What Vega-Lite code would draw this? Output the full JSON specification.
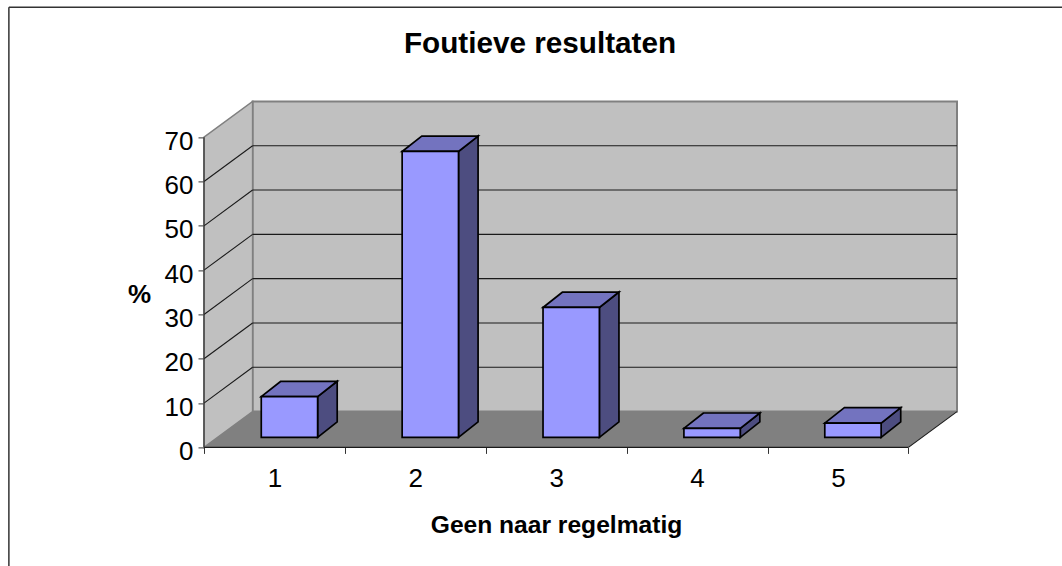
{"$schema":"https://vega.github.io/schema/vega-lite/v6.json","autosize":"none","width":753,"height":346,"padding":{"left":204,"top":101.4,"right":105,"bottom":118.6},"background":"white","config":{"view":{"stroke":null},"font":"Liberation Sans"},"title":{"text":"Foutieve resultaten","font":"Liberation Sans","fontSize":29.7,"fontWeight":"bold","anchor":"middle","frame":"group","dx":-40.5,"offset":-53,"color":"#000000"},"datasets":{"bars":[{"cat":1,"value":9.16},{"cat":2,"value":64.5},{"cat":3,"value":29.3},{"cat":4,"value":2.0},{"cat":5,"value":3.2}],"levels":[{"level":10},{"level":20},{"level":30},{"level":40},{"level":50},{"level":60}]},"encoding":{"x":{"field":"x","type":"quantitative","scale":{"domain":[0.5,5.845],"nice":false,"zero":false},"axis":null},"y":{"field":"y","type":"quantitative","scale":{"domain":[0,78.08],"nice":false,"zero":false},"axis":null}},"resolve":{"axis":{"x":"independent","y":"independent"}},"layer":[{"data":{"values":[{"x":0.845,"x2":5.845,"y":8.08,"y2":78.08}]},"mark":{"type":"rect","fill":"#c0c0c0","stroke":"#808080","strokeWidth":2},"encoding":{"x2":{"field":"x2"},"y2":{"field":"y2"}}},{"data":{"values":[{"x":0.5,"y":0,"y2":70},{"x":0.845,"y":8.08,"y2":78.08}]},"mark":{"type":"area","fill":"#c0c0c0","stroke":"#808080","strokeWidth":1.5},"encoding":{"y2":{"field":"y2"}}},{"data":{"values":[{"y":0,"x":0.5,"x2":5.5},{"y":8.08,"x":0.845,"x2":5.845}]},"mark":{"type":"area","orient":"horizontal","fill":"#808080"},"encoding":{"x2":{"field":"x2"}}},{"data":{"name":"levels"},"transform":[{"calculate":"0.5","as":"x"},{"calculate":"0.845","as":"x2"},{"calculate":"datum.level","as":"y"},{"calculate":"datum.level+8.08","as":"y2"}],"mark":{"type":"rule","color":"#1a1a1a","strokeWidth":1.1},"encoding":{"x2":{"field":"x2"},"y2":{"field":"y2"}}},{"data":{"name":"levels"},"transform":[{"calculate":"0.845","as":"x"},{"calculate":"5.845","as":"x2"},{"calculate":"datum.level+8.08","as":"y"}],"mark":{"type":"rule","color":"#1a1a1a","strokeWidth":1.1},"encoding":{"x2":{"field":"x2"}}},{"data":{"values":[{"x":5.5,"x2":5.845,"y":0,"y2":8.08}]},"mark":{"type":"rule","color":"#1a1a1a","strokeWidth":1.1},"encoding":{"x2":{"field":"x2"},"y2":{"field":"y2"}}},{"data":{"values":[{"x":0.5,"x2":5.5,"y":0}]},"mark":{"type":"rule","color":"#1a1a1a","strokeWidth":1.2},"encoding":{"x":{"field":"x","type":"quantitative","axis":{"orient":"bottom","values":[0.5,1.5,2.5,3.5,4.5,5.5],"labels":false,"domain":false,"grid":false,"ticks":true,"tickSize":6,"tickColor":"#333333","tickWidth":1,"title":"Geen naar regelmatig","titleFont":"Liberation Sans","titleFontSize":24.6,"titleFontWeight":"bold","titleColor":"#000000","titleX":352,"titleY":78,"titleBaseline":"middle","titleAlign":"center"}},"x2":{"field":"x2"}}},{"data":{"values":[{"x":1,"y":0},{"x":5,"y":0}]},"mark":{"type":"point","opacity":0},"encoding":{"x":{"field":"x","type":"quantitative","axis":{"orient":"bottom","values":[1,2,3,4,5],"format":"d","ticks":false,"domain":false,"grid":false,"title":null,"labelFont":"Liberation Sans","labelFontSize":26,"labelColor":"#000000","labelPadding":18,"labelFlush":false,"labelOverlap":false}}}},{"data":{"values":[{"x":0.5,"y":0,"y2":70}]},"mark":{"type":"rule","color":"#333333","strokeWidth":1.2},"encoding":{"y":{"field":"y","type":"quantitative","axis":{"orient":"left","values":[0,10,20,30,40,50,60,70],"domain":false,"grid":false,"ticks":true,"tickSize":6,"tickColor":"#333333","tickWidth":1,"labelFont":"Liberation Sans","labelFontSize":26,"labelColor":"#000000","labelPadding":5,"labelOffset":4,"labelFlush":false,"title":"%","titleFont":"Liberation Sans","titleFontSize":26,"titleFontWeight":"bold","titleColor":"#000000","titleAngle":0,"titleX":-65,"titleY":193,"titleBaseline":"middle","titleAlign":"center"}},"y2":{"field":"y2"}}},{"data":{"name":"bars"},"transform":[{"calculate":"[0,1]","as":"t"},{"flatten":["t"]},{"calculate":"datum.cat+0.3065+datum.t*0.139","as":"x"},{"calculate":"2.28+datum.t*3.48","as":"y"},{"calculate":"datum.y+datum.value","as":"y2"}],"mark":{"type":"area","fill":"#4d4d80","stroke":"#000000","strokeWidth":1.7},"encoding":{"y2":{"field":"y2"},"detail":{"field":"cat"}}},{"data":{"name":"bars"},"transform":[{"calculate":"[0,1]","as":"t"},{"flatten":["t"]},{"calculate":"datum.cat-0.0935+datum.t*0.139","as":"x"},{"calculate":"datum.cat+0.3065+datum.t*0.139","as":"x2"},{"calculate":"2.28+datum.value+datum.t*3.48","as":"y"}],"mark":{"type":"area","orient":"horizontal","fill":"#7373bf","stroke":"#000000","strokeWidth":1.7},"encoding":{"x2":{"field":"x2"},"detail":{"field":"cat"}}},{"data":{"name":"bars"},"transform":[{"calculate":"datum.cat-0.0935","as":"x"},{"calculate":"datum.cat+0.3065","as":"x2"},{"calculate":"2.28","as":"y"},{"calculate":"2.28+datum.value","as":"y2"}],"mark":{"type":"rect","fill":"#9999ff","stroke":"#000000","strokeWidth":1.7},"encoding":{"x2":{"field":"x2"},"y2":{"field":"y2"}}},{"data":{"values":[{"x":-0.885,"x2":6.6,"y":99.3}]},"mark":{"type":"rule","color":"#333333","strokeWidth":1.5},"encoding":{"x2":{"field":"x2"}}},{"data":{"values":[{"x":-0.885,"y":-27,"y2":99.3}]},"mark":{"type":"rule","color":"#333333","strokeWidth":1.5},"encoding":{"y2":{"field":"y2"}}}]}
